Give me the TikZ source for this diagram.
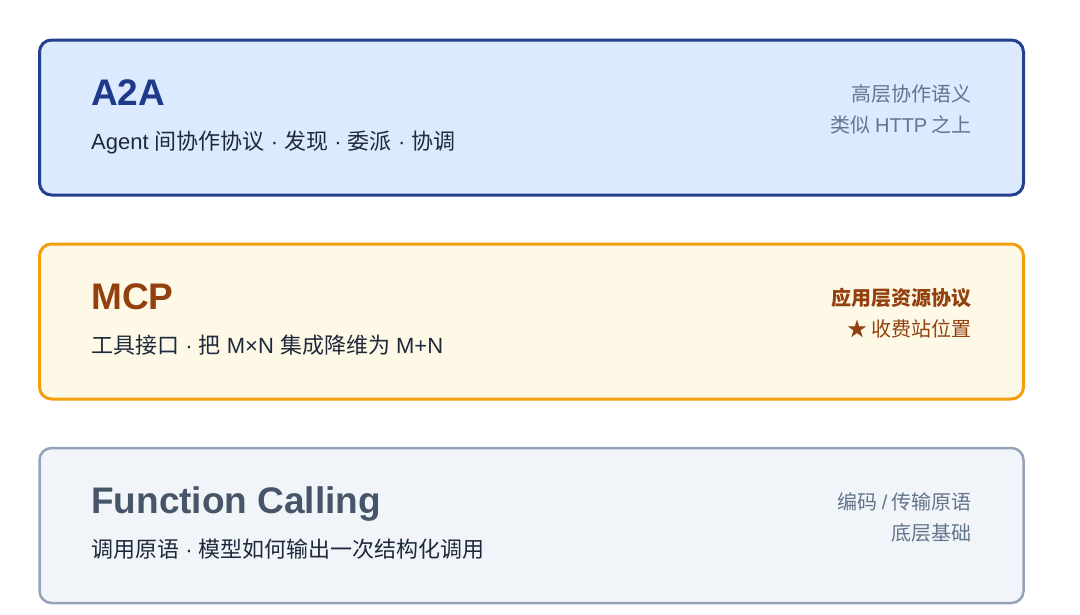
\documentclass[tikz,border=0pt]{standalone}
\usepackage{fontspec}
\setmainfont{Liberation Sans}
\newfontfamily\cjk{Noto Sans CJK SC}
\definecolor{a2afill}{HTML}{DBEAFE}
\definecolor{a2aline}{HTML}{23408E}
\definecolor{a2atitle}{HTML}{1E3A8A}
\definecolor{mcpfill}{HTML}{FEF9E7}
\definecolor{mcpline}{HTML}{F59E0B}
\definecolor{mcptitle}{HTML}{92400E}
\definecolor{fcfill}{HTML}{F1F5F9}
\definecolor{fcline}{HTML}{94A3B8}
\definecolor{fctitle}{HTML}{475569}
\definecolor{textdark}{HTML}{1E293B}
\definecolor{notegray}{HTML}{64748B}
\begin{document}
\begin{tikzpicture}[x=1pt,y=1pt,
	layer/.style={draw,line width=3pt,rounded corners=12pt,outer sep=0pt,
		minimum width=984pt,minimum height=155pt},
	title/.style={anchor=base west,inner sep=0pt,font=\bfseries\fontsize{37}{40}\selectfont},
	subtitle/.style={anchor=base west,inner sep=0pt,text=textdark,font=\fontsize{22}{26}\selectfont},
	note/.style={anchor=base east,inner sep=0pt,font=\cjk\fontsize{20}{24}\selectfont}]
\useasboundingbox (0,0) rectangle (1080,-614);

% A2A
\node[layer,draw=a2aline,fill=a2afill] (a2a) at (531.5,-117.5) {};
\node[title,text=a2atitle] (a2a-title) at ([xshift=51.5pt,yshift=-65pt]a2a.north west) {A2A};
\node[subtitle] (a2a-sub) at ([xshift=51.5pt,yshift=-109pt]a2a.north west)
	{Agent {\cjk 间协作协议} · {\cjk 发现} · {\cjk 委派} · {\cjk 协调}};
\node[note,text=notegray] (a2a-note1) at ([xshift=-51.5pt,yshift=-61pt]a2a.north east) {高层协作语义};
\node[note,text=notegray] (a2a-note2) at ([xshift=-51.5pt,yshift=-92pt]a2a.north east)
	{类似 {\rmfamily HTTP} 之上};

% MCP
\node[layer,draw=mcpline,fill=mcpfill] (mcp) at (531.5,-321.5) {};
\node[title,text=mcptitle] (mcp-title) at ([xshift=51.5pt,yshift=-65pt]mcp.north west) {MCP};
\node[subtitle] (mcp-sub) at ([xshift=51.5pt,yshift=-109pt]mcp.north west)
	{{\cjk 工具接口} · {\cjk 把} M×N {\cjk 集成降维为} M+N};
\node[note,text=mcptitle,font=\cjk\bfseries\fontsize{20}{24}\selectfont] (mcp-note1)
	at ([xshift=-51.5pt,yshift=-61pt]mcp.north east) {应用层资源协议};
\node[note,text=mcptitle] (mcp-note2) at ([xshift=-51.5pt,yshift=-92pt]mcp.north east) {★ 收费站位置};

% Function Calling
\node[layer,line width=2.5pt,draw=fcline,fill=fcfill] (fc) at (531.5,-525.5) {};
\node[title,text=fctitle] (fc-title) at ([xshift=51.5pt,yshift=-65pt]fc.north west) {Function Calling};
\node[subtitle] (fc-sub) at ([xshift=51.5pt,yshift=-109pt]fc.north west)
	{{\cjk 调用原语} · {\cjk 模型如何输出一次结构化调用}};
\node[note,text=notegray] (fc-note1) at ([xshift=-51.5pt,yshift=-61pt]fc.north east)
	{编码 {\rmfamily /} 传输原语};
\node[note,text=notegray] (fc-note2) at ([xshift=-51.5pt,yshift=-92pt]fc.north east) {底层基础};
\end{tikzpicture}
\end{document}
